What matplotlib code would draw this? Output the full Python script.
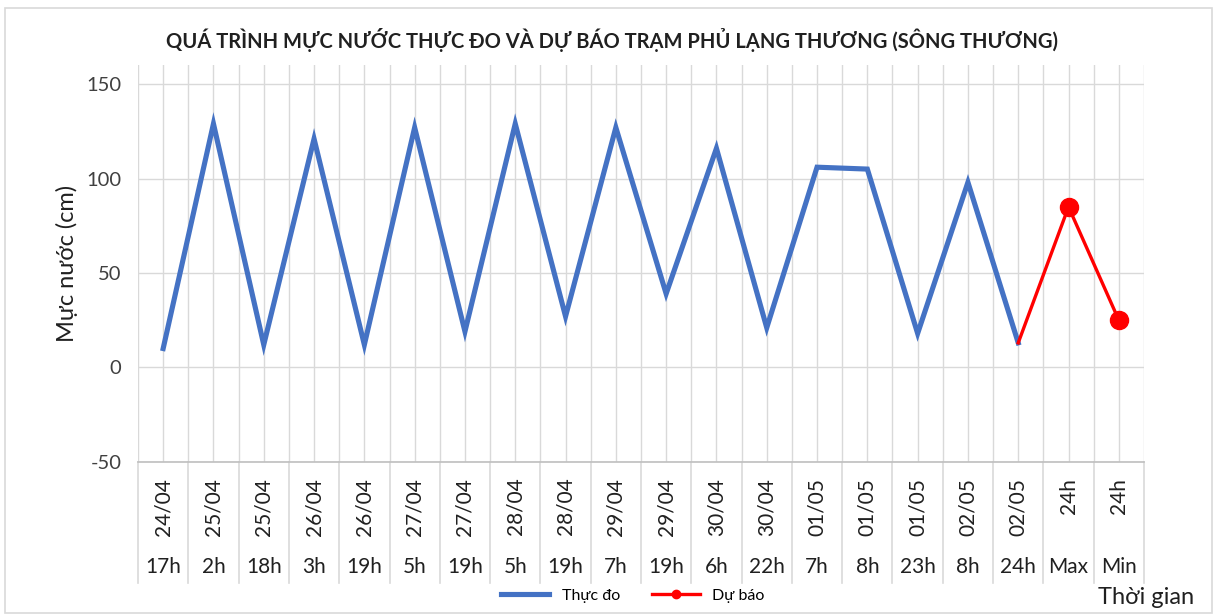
import numpy as np
import matplotlib
matplotlib.use("Agg")
import matplotlib.pyplot as plt
import matplotlib.transforms as mtransforms
from matplotlib.lines import Line2D

plt.rcParams['font.family'] = ['Lato', 'DejaVu Sans']
plt.rcParams['axes.unicode_minus'] = False

# data
dates = ["24/04", "25/04", "25/04", "26/04", "26/04", "27/04", "27/04", "28/04", "28/04",
         "29/04", "29/04", "30/04", "30/04", "01/05", "01/05", "01/05", "02/05", "02/05",
         "24h", "24h"]
hours = ["17h", "2h", "18h", "3h", "19h", "5h", "19h", "5h", "19h",
         "7h", "19h", "6h", "22h", "7h", "8h", "23h", "8h", "24h", "Max", "Min"]
observed = [10, 129, 12, 121, 12, 127, 19, 129, 27, 127, 39, 116, 21, 106, 105, 18, 98, 13]
forecast = [13, 85, 25]

n = len(hours)

fig = plt.figure(figsize=(12.17, 6.15), dpi=100)
ax = fig.add_axes([0.1134, 0.249, 0.8266, 0.645])

x_obs = np.arange(len(observed))
x_fc = np.arange(len(observed) - 1, len(observed) - 1 + len(forecast))

ax.plot(x_obs, observed, color='#4472C4', lw=3.7, solid_joinstyle='miter', zorder=3)
ax.plot(x_fc, forecast, color='#FF0000', lw=2.4, zorder=4)
ax.plot(x_fc[1:], forecast[1:], 'o', color='#FF0000', ms=13, zorder=5)

ax.set_xlim(-0.5, n - 0.5)
ax.set_ylim(-50, 160)
ax.set_yticks([-50, 0, 50, 100, 150])
ax.set_xticks(np.arange(-0.5, n, 0.5))
ax.set_xticklabels([])
ax.tick_params(axis='x', length=0)
ax.tick_params(axis='y', length=0, labelsize=14.5, colors='#404040', pad=12)
ax.grid(True, color='#d9d9d9', lw=1)
ax.set_axisbelow(True)
for s in ['top', 'right', 'left']:
    ax.spines[s].set_visible(False)
ax.spines['bottom'].set_color('#bfbfbf')
ax.spines['bottom'].set_linewidth(1.2)
ax.spines['bottom'].set_position(('data', -50))

# two-level category labels
trans = mtransforms.blended_transform_factory(ax.transData, ax.transAxes)
for i in range(n):
    ax.text(i, -0.04, dates[i], transform=trans, rotation=90, ha='center', va='top',
            fontsize=15, color='#202020')
    ax.text(i, -0.264, hours[i], transform=trans, ha='center', va='center',
            fontsize=15, color='#202020')
for b in np.arange(-0.5, n, 1.0):
    ax.add_line(Line2D([b, b], [0, -0.305], transform=trans, color='#d9d9d9',
                       lw=1.2, clip_on=False))

ax.set_ylabel('Mực nước (cm)', fontsize=17, color='#202020', labelpad=6)

fig.text(0.503, 0.935, 'QUÁ TRÌNH MỰC NƯỚC THỰC ĐO VÀ DỰ BÁO TRẠM PHỦ LẠNG THƯƠNG (SÔNG THƯƠNG)',
         ha='center', va='center', fontsize=14.5, fontweight='bold', color='#202020')
fig.text(0.942, 0.029, 'Thời gian', ha='center', va='center', fontsize=17, color='#202020')

handles = [Line2D([], [], color='#4472C4', lw=3.7),
           Line2D([], [], color='#FF0000', lw=2.4, marker='o', ms=6)]
fig.legend(handles, ['Thực đo', 'Dự báo'], loc='center', bbox_to_anchor=(0.52, 0.031),
           ncol=2, frameon=False, fontsize=11.5, handlelength=3, columnspacing=2)

# outer chart border
fig.add_artist(plt.Rectangle((0.004, 0.003), 0.992, 0.984, transform=fig.transFigure,
                             fill=False, edgecolor='#d9d9d9', lw=1.2))

fig.savefig('out.png', dpi=100)
